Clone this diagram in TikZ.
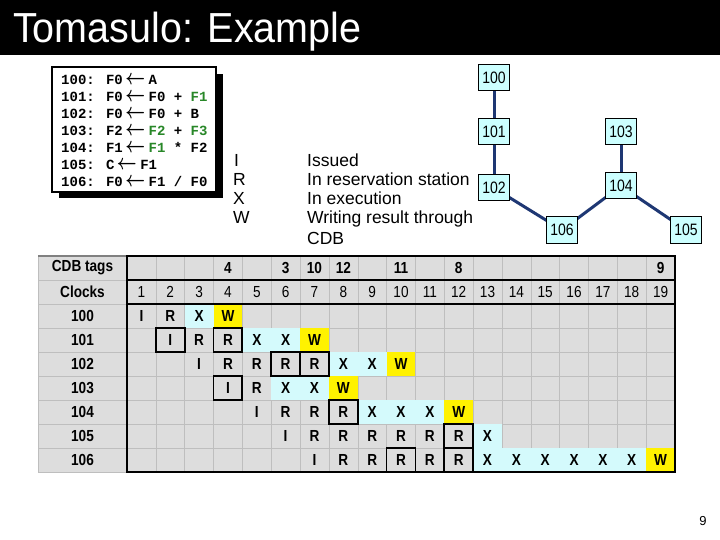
\documentclass[tikz,border=0pt]{standalone}
\usepackage{fontspec}
\setmainfont{Liberation Sans}
\newfontfamily\codefont{Liberation Mono}
\definecolor{codegreen}{RGB}{40,135,40}
\definecolor{nodecyan}{RGB}{204,255,255}
\definecolor{cellcyan}{RGB}{212,250,252}
\definecolor{edgeblue}{RGB}{30,55,115}
\definecolor{tgray}{RGB}{221,221,221}
\definecolor{gridc}{RGB}{190,190,190}
\newcommand\nw[1]{\scalebox{0.85}[1]{#1}}
\newcommand\Ar{\makebox[0.65em][c]{\kern-1pt\scalebox{1.2}[1.5]{\boldmath$\leftarrow$}}}
\newcommand\G[1]{\textcolor{codegreen}{#1}}
\tikzset{
  codeline/.style={anchor=base west, inner sep=0, font=\codefont\bfseries\fontsize{14}{14}\selectfont},
  legend/.style={anchor=base west, inner sep=0, font=\fontsize{17.5}{17.5}\selectfont},
  gnode/.style={draw, fill=nodecyan, minimum width=31pt, minimum height=26pt, inner sep=0, line width=1pt, font=\fontsize{16.5}{16.5}\selectfont},
  edge/.style={edgeblue, line width=3pt},
  celltext/.style={inner sep=0, font=\fontsize{16}{16}\selectfont\bfseries},
  clocktext/.style={inner sep=0, font=\fontsize{16}{16}\selectfont},
  thick line/.style={line width=2.2pt, black},
  cellbox/.style={line width=1.8pt, black}
}
\begin{document}
\begin{tikzpicture}[x=1pt,y=-1pt]
\useasboundingbox (0,0) rectangle (720,540);
\fill[white] (0,0) rectangle (720,540);
% title bar
\fill[black] (0,0) rectangle (720,55);
\node[anchor=base west, text=white, inner sep=0, font=\fontsize{42}{42}\selectfont] (title) at (13,43) {\scalebox{0.94}[1]{Tomasulo: Example}};
% code box
\fill[black] (59,74) rectangle (223,198);
\draw[line width=2pt, fill=white] (52,67) rectangle (216,192);
\node[codeline] (l100) at (61,85)  {100: F0 \Ar{} A};
\node[codeline] (l101) at (61,102) {101: F0 \Ar{} F0 + \G{F1}};
\node[codeline] (l102) at (61,119) {102: F0 \Ar{} F0 + B};
\node[codeline] (l103) at (61,136) {103: F2 \Ar{} \G{F2} + \G{F3}};
\node[codeline] (l104) at (61,153) {104: F1 \Ar{} \G{F1} * F2};
\node[codeline] (l105) at (61,170) {105: C \Ar{} F1};
\node[codeline] (l106) at (61,187) {106: F0 \Ar{} F1 / F0};
% legend
\node[legend] (kI) at (234,167) {I};
\node[legend] (kR) at (233,186) {R};
\node[legend] (kX) at (233,205) {X};
\node[legend] (kW) at (233,224) {W};
\node[legend] (dI) at (307,167) {Issued};
\node[legend] (dR) at (307,186) {In reservation station};
\node[legend] (dX) at (307,205) {In execution};
\node[legend] (dW) at (307,224) {Writing result through};
\node[legend] (dW2) at (307,244) {CDB};
% dependency graph
\path (494,78) coordinate (p100) (494,132) coordinate (p101) (621,132) coordinate (p103)
      (494,188) coordinate (p102) (621,186) coordinate (p104) (562,230) coordinate (p106)
      (686,230) coordinate (p105);
\draw[edge] (p100) -- (p101);
\draw[edge] (p101) -- (p102);
\draw[edge] (p102) -- (p106);
\draw[edge] (p106) -- (p104);
\draw[edge] (p103) -- (p104);
\draw[edge] (p104) -- (p105);
\node[gnode] (n100) at (p100) {\nw{100}};
\node[gnode] (n101) at (p101) {\nw{101}};
\node[gnode] (n103) at (p103) {\nw{103}};
\node[gnode] (n102) at (p102) {\nw{102}};
\node[gnode] (n104) at (p104) {\nw{104}};
\node[gnode] (n106) at (p106) {\nw{106}};
\node[gnode] (n105) at (p105) {\nw{105}};
% table
\def\cw{28.842}
\fill[tgray] (38,256) rectangle (675,472);
\foreach \c in {1,...,18} \draw[gridc] ({127+\c*\cw},256) -- ({127+\c*\cw},472);
\foreach \r in {1,...,8} \draw[gridc] (38,{256+\r*24}) -- (675,{256+\r*24});
\draw[gridc, line width=1pt] (38,256) rectangle (675,472);
\draw[gray, line width=1.2pt] (38,256) -- (127,256);
% cyan cells
\foreach \r/\a/\b in {2/3/3, 3/5/6, 4/8/9, 5/6/7, 6/9/11, 7/13/13, 8/13/18}
  \fill[cellcyan] ({127+(\a-1)*\cw},{256+\r*24}) rectangle ({127+\b*\cw},{256+(\r+1)*24});
% yellow cells
\foreach \r/\c in {2/4, 3/7, 4/10, 5/8, 6/12, 8/19}
  \fill[yellow] ({127+(\c-1)*\cw},{256+\r*24}) rectangle ({127+\c*\cw},{256+(\r+1)*24});
% boxed cells
\foreach \r/\c in {3/2, 3/4, 4/6, 4/7, 5/4, 6/8, 7/12, 8/10, 8/12}
  \draw[cellbox] ({127+(\c-1)*\cw},{256+\r*24}) rectangle ({127+\c*\cw},{256+(\r+1)*24});
% thick lines
\draw[thick line] (127,256) rectangle (675,472);
\draw[thick line] (127,280) -- (675,280);
\draw[thick line] (127,304) -- (675,304);
% row labels
\foreach \r/\t in {0/CDB tags, 1/Clocks, 2/100, 3/101, 4/102, 5/103, 6/104, 7/105, 8/106}
  \node[celltext] (lab-\r) at (82.5,{256+(\r+0.5)*24}) {\nw{\t}};
% CDB tags
\foreach \c/\t in {4/4, 6/3, 7/10, 8/12, 10/11, 12/8, 19/9}
  \node[celltext] (tag-\c) at ({127+(\c-0.5)*\cw},268) {\nw{\t}};
% clocks
\foreach \c in {1,...,19}
  \node[clocktext] (clk-\c) at ({127+(\c-0.5)*\cw},292) {\nw{\c}};
% states
\foreach \r/\c/\t in {2/1/I, 2/2/R, 2/3/X, 2/4/W,
  3/2/I, 3/3/R, 3/4/R, 3/5/X, 3/6/X, 3/7/W,
  4/3/I, 4/4/R, 4/5/R, 4/6/R, 4/7/R, 4/8/X, 4/9/X, 4/10/W,
  5/4/I, 5/5/R, 5/6/X, 5/7/X, 5/8/W,
  6/5/I, 6/6/R, 6/7/R, 6/8/R, 6/9/X, 6/10/X, 6/11/X, 6/12/W,
  7/6/I, 7/7/R, 7/8/R, 7/9/R, 7/10/R, 7/11/R, 7/12/R, 7/13/X,
  8/7/I, 8/8/R, 8/9/R, 8/10/R, 8/11/R, 8/12/R, 8/13/X, 8/14/X, 8/15/X, 8/16/X, 8/17/X, 8/18/X, 8/19/W}
  \node[celltext] (s-\r-\c) at ({127+(\c-0.5)*\cw},{256+(\r+0.5)*24}) {\nw{\t}};
% page number
\node[inner sep=0, font=\fontsize{13}{13}\selectfont] (pg) at (703,521) {9};
\end{tikzpicture}
\end{document}
